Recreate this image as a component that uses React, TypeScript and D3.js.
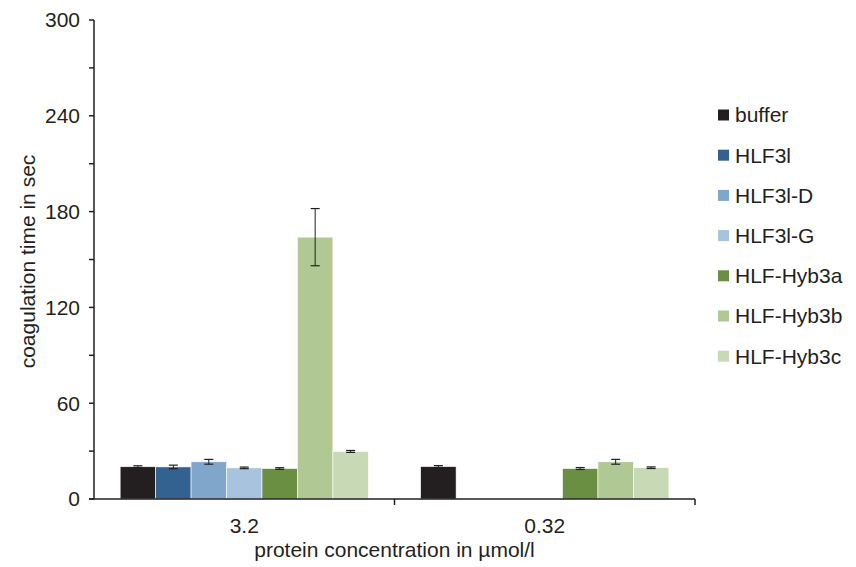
import React from 'react';
import * as d3 from 'd3';

const categories = ['3.2', '0.32'];
const seriesNames = ['buffer', 'HLF3l', 'HLF3l-D', 'HLF3l-G', 'HLF-Hyb3a', 'HLF-Hyb3b', 'HLF-Hyb3c'];
const seriesColors = ['#231f20', '#336190', '#80a6cc', '#a8c3dd', '#6a8f43', '#b0c894', '#c8d9b5'];
// values per series, one per category (null = not measured)
const seriesValues: (number | null)[][] = [
    [20.2, 20.3],
    [20.1, null],
    [23.3, null],
    [19.5, null],
    [19.1, 19.1],
    [164, 23.3],
    [29.8, 19.6],
];
const seriesErrors: (number | null)[][] = [
    [0.6, 0.6],
    [1.1, null],
    [1.5, null],
    [0.5, null],
    [0.5, 0.6],
    [17.9, 1.5],
    [0.6, 0.5],
];
const yTicks = [0, 60, 120, 180, 240, 300];
const yMinorTicks = [30, 90, 150, 210, 270];

const W = 856;
const H = 567;
const margin = { top: 20, right: 161, bottom: 68, left: 94 };
const textColor = '#231f20';
const font = '"Liberation Sans", Arial, sans-serif';
const fs = 21;

const App: React.FC = () => {
    const innerW = W - margin.left - margin.right;
    const innerH = H - margin.top - margin.bottom;

    const x0 = d3.scaleBand().domain(categories).range([0, innerW]).paddingInner(0).paddingOuter(0);
    const groupPad = 0.087;
    const x1 = d3.scaleBand()
        .domain(seriesNames)
        .range([x0.bandwidth() * groupPad, x0.bandwidth() * (1 - groupPad)]);
    const y = d3.scaleLinear().domain([0, 300]).range([innerH, 0]);

    return (
        <svg width={W} height={H} style={{ position: 'absolute', left: 0, top: 0, background: '#fff' }}>
            <g transform={`translate(${margin.left},${margin.top})`}>
                {categories.map((c, ci) => (
                    <g key={c} transform={`translate(${x0(c)},0)`}>
                        {seriesNames.map((s, si) => {
                            const v = seriesValues[si][ci];
                            if (v === null) return null;
                            const e = seriesErrors[si][ci] ?? 0;
                            const bx = x1(s) ?? 0;
                            const cx = bx + x1.bandwidth() / 2;
                            return (
                                <g key={s}>
                                    <rect x={bx} y={y(v)} width={x1.bandwidth()} height={innerH - y(v)}
                                        fill={seriesColors[si]} stroke="#fff" strokeWidth={0.6} />
                                    <line x1={cx} x2={cx} y1={y(v + e)} y2={y(v - e)} stroke={textColor} strokeWidth={1} />
                                    <line x1={cx - 4.5} x2={cx + 4.5} y1={y(v + e)} y2={y(v + e)} stroke={textColor} strokeWidth={1.2} />
                                    <line x1={cx - 4.5} x2={cx + 4.5} y1={y(v - e)} y2={y(v - e)} stroke={textColor} strokeWidth={1.2} />
                                </g>
                            );
                        })}
                    </g>
                ))}

                {/* y axis */}
                <line x1={0} x2={0} y1={0} y2={innerH} stroke={textColor} strokeWidth={1.5} />
                {yTicks.map(t => (
                    <g key={t} transform={`translate(0,${y(t)})`}>
                        <line x1={-5} x2={0} stroke={textColor} strokeWidth={1.5} />
                        <text x={-14} dy="0.35em" textAnchor="end" fontSize={fs} fontFamily={font} fill={textColor}>{t}</text>
                    </g>
                ))}
                {yMinorTicks.map(t => (
                    <line key={t} x1={-5} x2={0} y1={y(t)} y2={y(t)} stroke={textColor} strokeWidth={1.5} />
                ))}

                {/* x axis */}
                <line x1={-5} x2={innerW} y1={innerH} y2={innerH} stroke={textColor} strokeWidth={1.5} />
                {categories.map(c => (
                    <g key={c}>
                        <line x1={(x0(c) ?? 0) + x0.bandwidth()} x2={(x0(c) ?? 0) + x0.bandwidth()}
                            y1={innerH} y2={innerH + 6} stroke={textColor} strokeWidth={1.5} />
                        <text x={(x0(c) ?? 0) + x0.bandwidth() / 2} y={innerH + 34} textAnchor="middle"
                            fontSize={fs} fontFamily={font} fill={textColor}>{c}</text>
                    </g>
                ))}

                <text x={innerW / 2} y={innerH + 58} textAnchor="middle" fontSize={fs} fontFamily={font} fill={textColor}>
                    protein concentration in µmol/l
                </text>
                <text transform={`translate(-59,${innerH / 2 + 2}) rotate(-90)`} textAnchor="middle"
                    fontSize={fs} fontFamily={font} fill={textColor}>
                    coagulation time in sec
                </text>
            </g>

            {/* legend */}
            <g transform="translate(718,115)">
                {seriesNames.map((s, i) => (
                    <g key={s} transform={`translate(0,${i * 40.2})`}>
                        <rect x={0} y={-5.5} width={11} height={11} fill={seriesColors[i]} />
                        <text x={17} dy="0.35em" fontSize={fs} fontFamily={font} fill={textColor}>{s}</text>
                    </g>
                ))}
            </g>
        </svg>
    );
};

export default App;
